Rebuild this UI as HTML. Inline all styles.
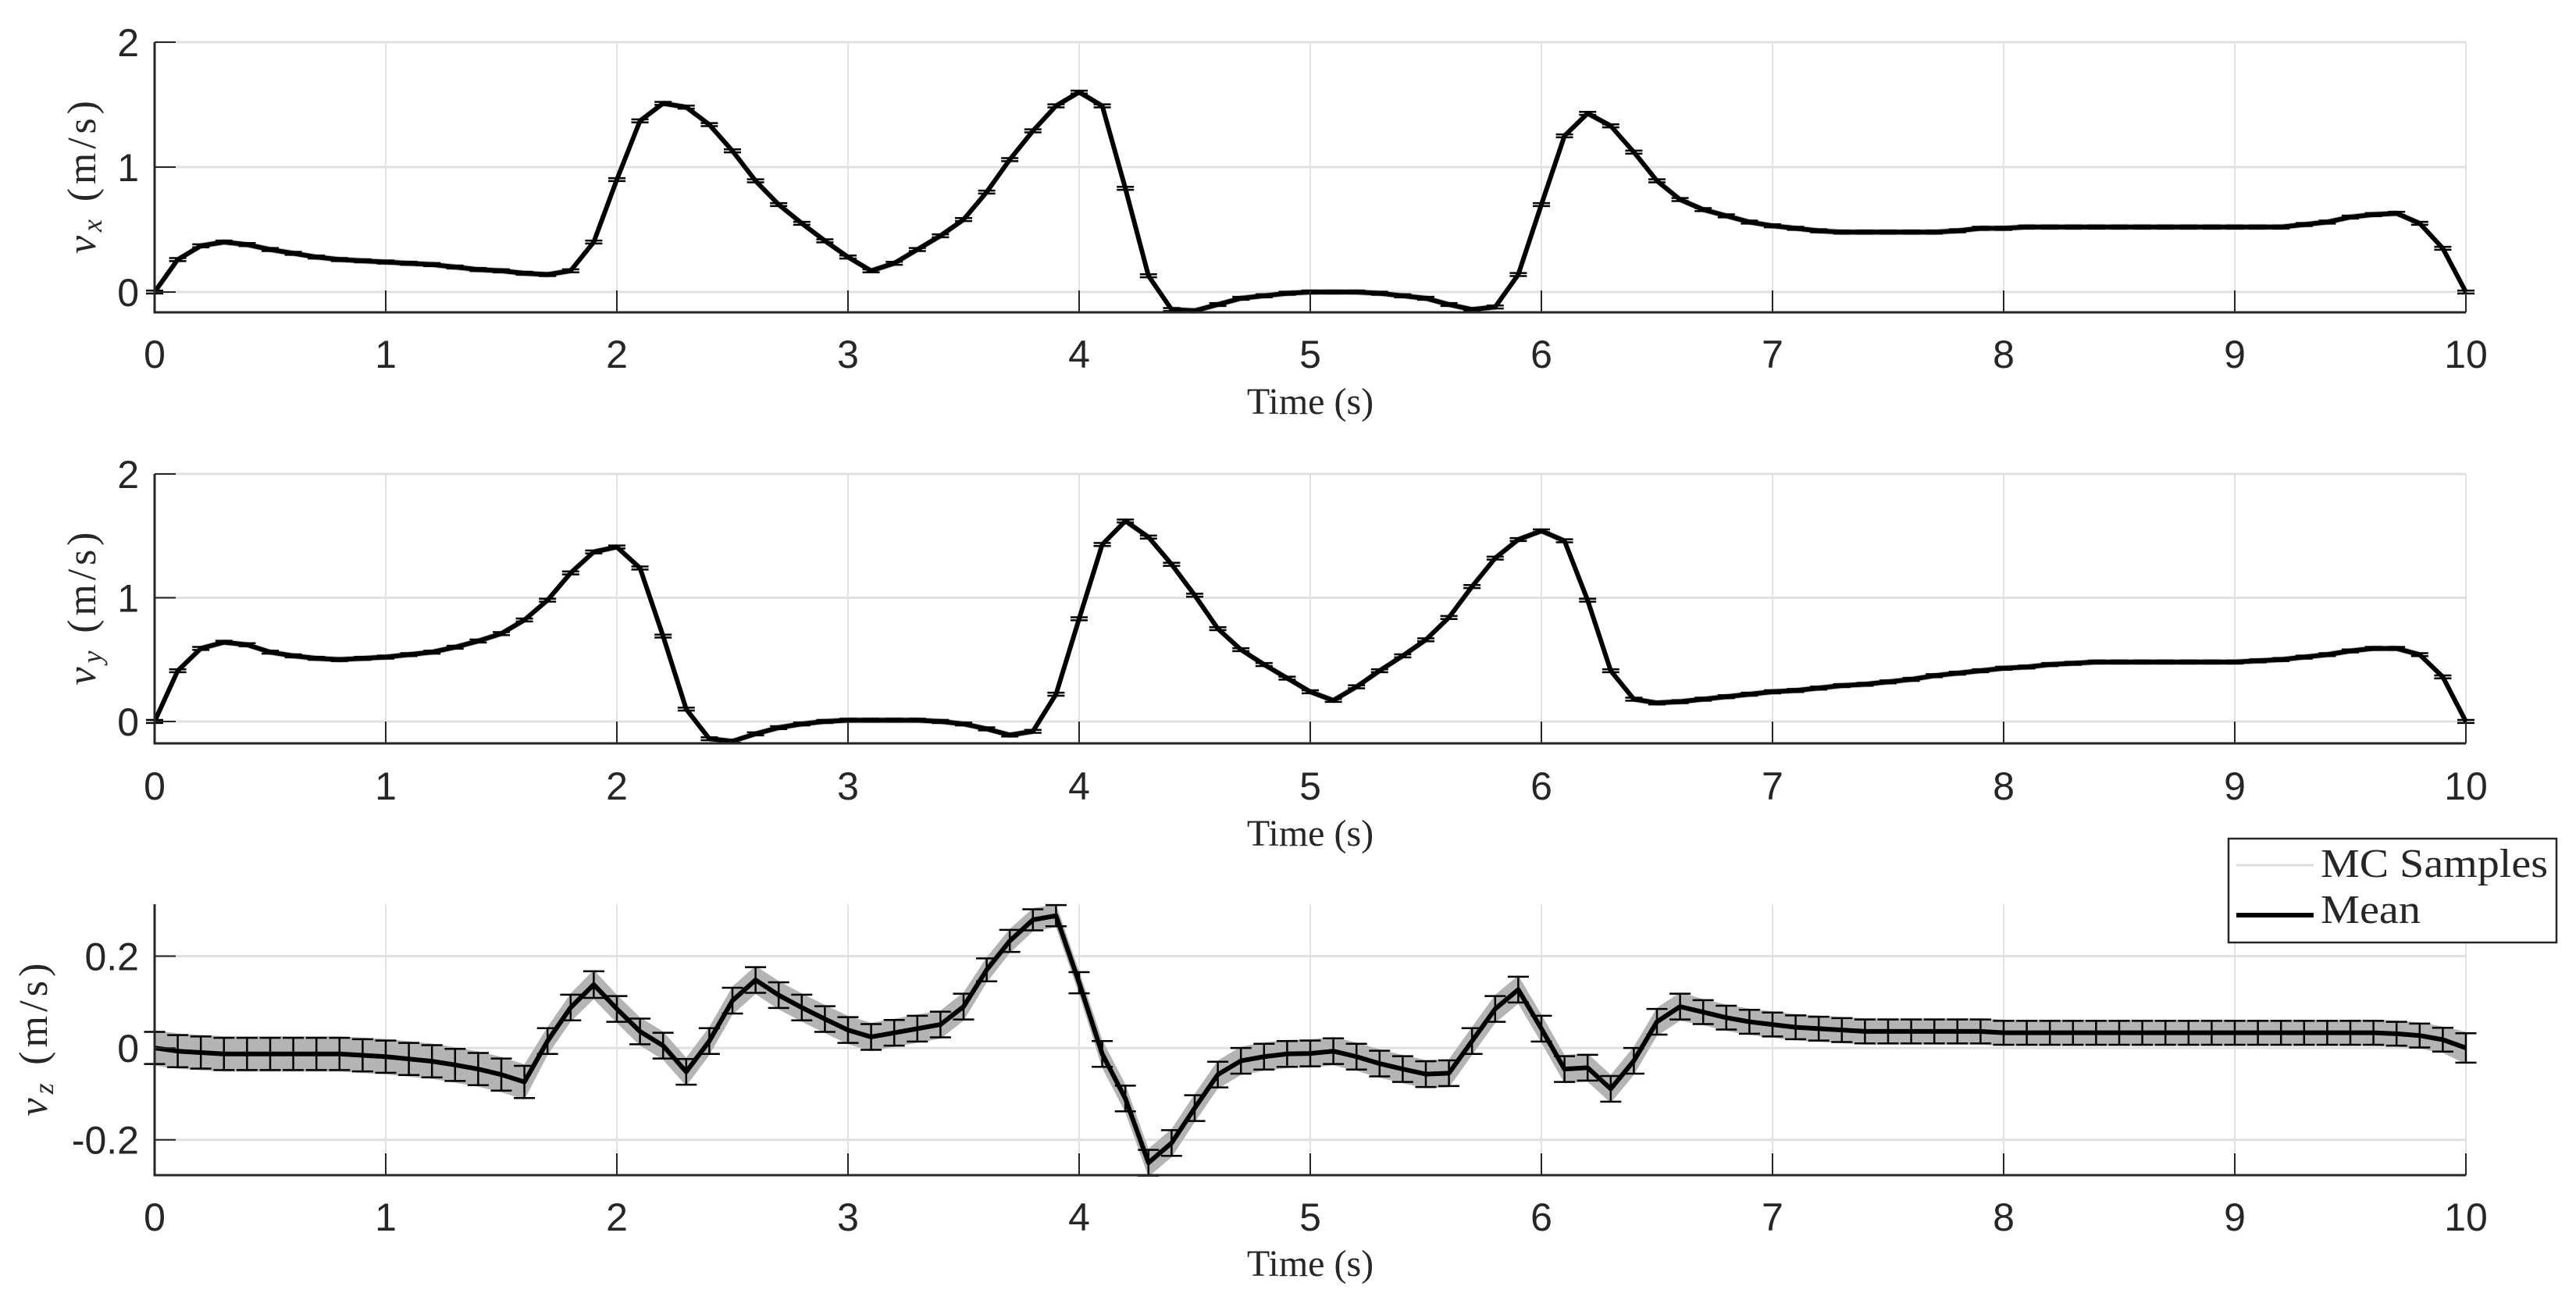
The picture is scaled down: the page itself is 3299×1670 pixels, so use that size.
<!DOCTYPE html>
<html><head><meta charset="utf-8"><style>
html,body{margin:0;padding:0;background:#fff;}
svg{display:block;}
</style></head><body>
<svg id="fig" width="3299" height="1670" viewBox="0 0 3299 1670" xmlns="http://www.w3.org/2000/svg"></svg>
<script>
const timeSteps = [0,0.1,0.2,0.3,0.4,0.5,0.6,0.7,0.8,0.9,1,1.1,1.2,1.3,1.4,1.5,1.6,1.7,1.8,1.9,2,2.1,2.2,2.3,2.4,2.5,2.6,2.7,2.8,2.9,3,3.1,3.2,3.3,3.4,3.5,3.6,3.7,3.8,3.9,4,4.1,4.2,4.3,4.4,4.5,4.6,4.7,4.8,4.9,5,5.1,5.2,5.3,5.4,5.5,5.6,5.7,5.8,5.9,6,6.1,6.2,6.3,6.4,6.5,6.6,6.7,6.8,6.9,7,7.1,7.2,7.3,7.4,7.5,7.6,7.7,7.8,7.9,8,8.1,8.2,8.3,8.4,8.5,8.6,8.7,8.8,8.9,9,9.1,9.2,9.3,9.4,9.5,9.6,9.7,9.8,9.9,10];
const vxMean = [0,0.26,0.37,0.40,0.38,0.34,0.31,0.28,0.26,0.25,0.24,0.23,0.22,0.20,0.18,0.17,0.15,0.14,0.17,0.40,0.90,1.37,1.51,1.48,1.34,1.13,0.89,0.70,0.55,0.41,0.28,0.17,0.23,0.34,0.45,0.58,0.80,1.06,1.29,1.49,1.60,1.49,0.83,0.13,-0.14,-0.15,-0.10,-0.05,-0.03,-0.01,0.0,0.0,0.0,-0.01,-0.03,-0.05,-0.10,-0.14,-0.12,0.14,0.70,1.25,1.43,1.33,1.12,0.89,0.74,0.66,0.61,0.56,0.53,0.51,0.49,0.48,0.48,0.48,0.48,0.48,0.49,0.51,0.51,0.52,0.52,0.52,0.52,0.52,0.52,0.52,0.52,0.52,0.52,0.52,0.52,0.54,0.56,0.60,0.62,0.63,0.55,0.35,0];
const vyMean = [0,0.41,0.59,0.64,0.62,0.56,0.53,0.51,0.50,0.51,0.52,0.54,0.56,0.60,0.65,0.71,0.82,0.98,1.20,1.37,1.41,1.24,0.69,0.10,-0.14,-0.16,-0.10,-0.05,-0.02,0,0.01,0.01,0.01,0.01,0,-0.02,-0.06,-0.11,-0.08,0.22,0.83,1.43,1.62,1.49,1.27,1.02,0.75,0.58,0.46,0.35,0.24,0.17,0.28,0.41,0.53,0.66,0.84,1.09,1.32,1.47,1.54,1.46,0.98,0.41,0.18,0.15,0.16,0.18,0.20,0.22,0.24,0.25,0.27,0.29,0.30,0.32,0.34,0.37,0.39,0.41,0.43,0.44,0.46,0.47,0.48,0.48,0.48,0.48,0.48,0.48,0.48,0.49,0.50,0.52,0.54,0.57,0.59,0.59,0.54,0.36,0];
const vzMean = [0,-0.007,-0.01,-0.013,-0.013,-0.013,-0.013,-0.013,-0.013,-0.016,-0.019,-0.024,-0.029,-0.037,-0.046,-0.058,-0.074,0.015,0.088,0.138,0.085,0.036,0.005,-0.052,0.015,0.103,0.148,0.115,0.088,0.063,0.039,0.024,0.033,0.042,0.051,0.09,0.17,0.233,0.279,0.288,0.142,-0.013,-0.11,-0.25,-0.207,-0.131,-0.058,-0.028,-0.019,-0.013,-0.012,-0.007,-0.019,-0.034,-0.046,-0.057,-0.055,0.015,0.085,0.127,0.042,-0.046,-0.043,-0.089,-0.028,0.057,0.09,0.078,0.066,0.057,0.051,0.045,0.042,0.039,0.036,0.036,0.036,0.036,0.036,0.036,0.033,0.033,0.033,0.033,0.033,0.033,0.033,0.033,0.033,0.033,0.033,0.033,0.033,0.033,0.033,0.033,0.033,0.031,0.027,0.018,0];
const vzStd = [0.035,0.035,0.035,0.035,0.035,0.035,0.035,0.035,0.035,0.035,0.035,0.035,0.035,0.035,0.035,0.035,0.035,0.028,0.028,0.029,0.028,0.028,0.028,0.028,0.028,0.028,0.028,0.028,0.028,0.028,0.028,0.028,0.028,0.028,0.028,0.028,0.025,0.024,0.023,0.023,0.023,0.028,0.028,0.028,0.028,0.028,0.028,0.028,0.028,0.028,0.028,0.028,0.028,0.028,0.028,0.028,0.028,0.028,0.028,0.028,0.028,0.028,0.028,0.028,0.028,0.028,0.028,0.026,0.026,0.026,0.026,0.026,0.026,0.026,0.026,0.026,0.026,0.026,0.026,0.026,0.026,0.026,0.026,0.026,0.026,0.026,0.026,0.026,0.026,0.026,0.026,0.026,0.026,0.026,0.026,0.026,0.026,0.026,0.026,0.026,0.032];
const vxStd = 0.012;
const vyStd = 0.012;
const xTickLabels = ["0","1","2","3","4","5","6","7","8","9","10"];
const xTickValues = [0,1,2,3,4,5,6,7,8,9,10];
const yTicksXY = [0,1,2];
const yTickLabelsXY = ["0","1","2"];
const yTicksZ = [-0.2,0,0.2];
const yTickLabelsZ = ["-0.2","0","0.2"];

const NS = "http://www.w3.org/2000/svg";
const svg = document.getElementById('fig');
function mk(tag, attrs, parent){ const e=document.createElementNS(NS,tag); for(const k in attrs) e.setAttribute(k,attrs[k]); (parent||svg).appendChild(e); return e; }

const X0=198, X1=3158;
function xs(t){ return X0 + (t-0)/(10-0)*(X1-X0); }

const panels = [
  {key:'vx', mean:vxMean, std:timeSteps.map(()=>vxStd), band:0.025, top:54, bot:400, ymin:-0.1625, ymax:2, ticks:yTicksXY, tickLabels:yTickLabelsXY, sub:'x', labelX:106, xLabBase:471, timeBase:530, cap:22},
  {key:'vy', mean:vyMean, std:timeSteps.map(()=>vyStd), band:0.025, top:607, bot:952, ymin:-0.177, ymax:2, ticks:yTicksXY, tickLabels:yTickLabelsXY, sub:'y', labelX:106, xLabBase:1024, timeBase:1083, cap:22},
  {key:'vz', mean:vzMean, std:vzStd, band:null, top:1158, bot:1505, ymin:-0.277, ymax:0.313, ticks:yTicksZ, tickLabels:yTickLabelsZ, sub:'z', labelX:44, xLabBase:1576, timeBase:1634, cap:27}
];

panels.forEach(p=>{
  const g = mk('g',{});
  
  
  const ys = v => p.bot - (v-p.ymin)/(p.ymax-p.ymin)*(p.bot-p.top);
  xTickValues.forEach(t=>{
    const l = mk('line',{x1:xs(t),x2:xs(t),y1:p.top,y2:p.bot,stroke:'#e3e3e3','stroke-width':2},g);
    
    
  });
  p.ticks.forEach(v=>{
    const l = mk('line',{x1:X0,x2:X1,y1:ys(v),y2:ys(v),stroke:'#e0e0e0','stroke-width':3},g);
    
    
  });
  const bandUp = timeSteps.map((t,i)=>xs(t)+','+ys(p.mean[i]+(p.band!==null?p.band:p.std[i]*1.1)));
  const bandDn = timeSteps.map((t,i)=>xs(t)+','+ys(p.mean[i]-(p.band!==null?p.band:p.std[i]*1.1))).reverse();
  const band = mk('polygon',{points:bandUp.concat(bandDn).join(' '),fill:p.band!==null?'#c4c4c4':'#b4b4b4',stroke:'none'},g);
  
  
  const ml = mk('polyline',{points:timeSteps.map((t,i)=>xs(t)+','+ys(p.mean[i])).join(' '),fill:'none',stroke:'#000','stroke-width':6,'stroke-linejoin':'round'},g);
  
  
  timeSteps.forEach((t,i)=>{
    const x=xs(t), y1=ys(p.mean[i]+p.std[i]), y2=ys(p.mean[i]-p.std[i]);
    const eg = mk('g',{stroke:'#000','stroke-width':2.5},g);
    
    
    mk('line',{x1:x,x2:x,y1:y1,y2:y2},eg);
    mk('line',{x1:x-p.cap/2,x2:x+p.cap/2,y1:y1,y2:y1},eg);
    mk('line',{x1:x-p.cap/2,x2:x+p.cap/2,y1:y2,y2:y2},eg);
  });
  const ax = mk('path',{d:`M${X0},${p.top} L${X0},${p.bot} L${X1},${p.bot}`,fill:'none',stroke:'#262626','stroke-width':3},g);
  
  
  xTickValues.forEach((t,i)=>{
    mk('line',{x1:xs(t),x2:xs(t),y1:p.bot,y2:p.bot-28,stroke:'#262626','stroke-width':2},g);
    const tx = mk('text',{x:xs(t),y:p.xLabBase,'text-anchor':'middle','font-family':'Liberation Sans, sans-serif','font-size':50,fill:'#262626'},g);
    tx.textContent = xTickLabels[i];
    
    
  });
  p.ticks.forEach((v,i)=>{
    mk('line',{x1:X0,x2:X0+27,y1:ys(v),y2:ys(v),stroke:'#262626','stroke-width':2},g);
    const tx = mk('text',{x:178,y:ys(v)+18,'text-anchor':'end','font-family':'Liberation Sans, sans-serif','font-size':50,fill:'#262626'},g);
    tx.textContent = p.tickLabels[i];
    
    
  });
  const tl = mk('text',{x:(X0+X1)/2,y:p.timeBase,'text-anchor':'middle','font-family':'Liberation Serif, serif','font-size':48,fill:'#262626'},g);
  tl.textContent='Time (s)';
  
  
  const cy=(p.top+p.bot)/2;
  const yl = mk('text',{x:0,y:0,transform:`translate(${p.labelX+16},${cy}) rotate(-90)`,'text-anchor':'middle','font-family':'Liberation Serif, serif','font-size':52,fill:'#262626',textLength:196,lengthAdjust:'spacing'},g);
  
  
  const v1 = mk('tspan',{'font-style':'italic'},yl); v1.textContent='v';
  const s1 = mk('tspan',{'font-style':'italic','font-size':36,dy:8},yl); s1.textContent=p.sub;
  const s2 = mk('tspan',{dy:-8},yl); s2.textContent='  (m/s)';
});

const lg = mk('g',{});


mk('rect',{x:2854,y:1074,width:420,height:133,fill:'#fff',stroke:'#262626','stroke-width':2.5},lg);
const l1 = mk('line',{x1:2864,x2:2963,y1:1108,y2:1108,stroke:'#dcdcdc','stroke-width':3},lg);


const t1 = mk('text',{x:2972,y:1123,'font-family':'Liberation Serif, serif','font-size':52,fill:'#262626',textLength:291,lengthAdjust:'spacingAndGlyphs'},lg);
t1.textContent='MC Samples';


const l2 = mk('line',{x1:2864,x2:2963,y1:1172,y2:1172,stroke:'#000','stroke-width':6},lg);


const t2 = mk('text',{x:2972,y:1182,'font-family':'Liberation Serif, serif','font-size':52,fill:'#262626',textLength:128,lengthAdjust:'spacingAndGlyphs'},lg);
t2.textContent='Mean';


</script>
</body></html>
